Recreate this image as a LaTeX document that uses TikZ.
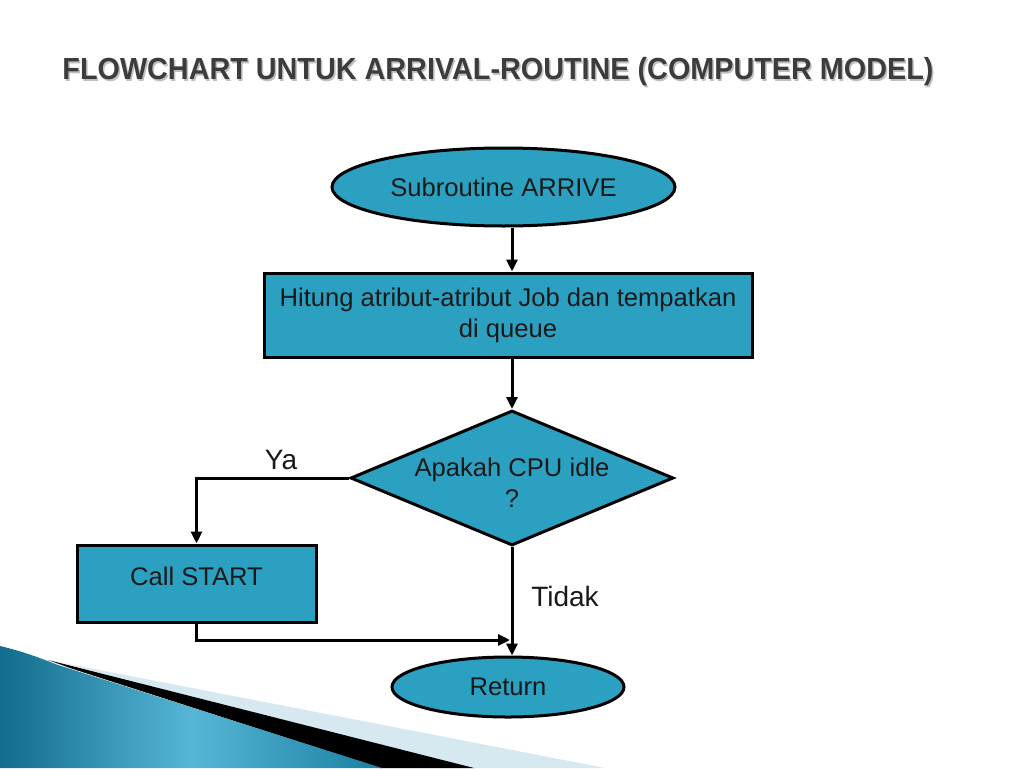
\documentclass[tikz,border=0pt]{standalone}
\usepackage{fontspec}
\setmainfont{Liberation Sans}
\usetikzlibrary{shapes.geometric,arrows.meta}
\definecolor{boxfill}{RGB}{44,160,192}
\definecolor{titlecol}{RGB}{60,60,60}
\definecolor{decoL}{RGB}{18,108,140}
\definecolor{decoM}{RGB}{86,182,214}
\definecolor{decoR}{RGB}{26,128,162}
\definecolor{decoLight}{RGB}{214,232,240}
\tikzset{
  base/.style={draw=black, line width=3pt, fill=boxfill, inner sep=0pt, align=center,
    font=\fontsize{25.6}{31}\selectfont, text=black!90},
  oval/.style={base, ellipse},
  boxnode/.style={base, rectangle},
  decision/.style={base, diamond},
  arr/.style={line width=3pt, -{Triangle[length=12pt,width=11pt]}},
  lbl/.style={font=\fontsize{25.6}{31}\selectfont, text=black!90, align=center, inner sep=0pt},
  biglbl/.style={font=\fontsize{28}{32}\selectfont, text=black!90, inner sep=0pt},
  titlefont/.style={font=\bfseries\fontsize{30.5}{34}\selectfont, inner sep=0pt}
}
\begin{document}
\begin{tikzpicture}[x=1pt,y=-1pt]
\useasboundingbox (0,0) rectangle (1024,768);
\fill[white] (0,0) rectangle (1024,768);
% decoration bottom-left
\fill[decoLight] (58,662) -- (605,768) -- (470,768) -- cycle;
\fill[black] (48,660) -- (474,768) -- (380,768) -- (70,668) -- cycle;
\shade[left color=decoL, right color=decoR, middle color=decoM]
  (0,646) .. controls (25,652) and (40,658) .. (58,665) -- (382,768) -- (0,768) -- cycle;
% title
\node[titlefont, text=black!25] (tshadow) at (499.5,73.5)
  {\scalebox{0.944}[1]{FLOWCHART UNTUK ARRIVAL-ROUTINE (COMPUTER MODEL)}};
\node[titlefont, text=titlecol] (title) at (498,72)
  {\scalebox{0.944}[1]{FLOWCHART UNTUK ARRIVAL-ROUTINE (COMPUTER MODEL)}};
% nodes
\node[oval, minimum width=343pt, minimum height=78pt] (start) at (503.5,187) {Subroutine ARRIVE};
\node[boxnode, minimum width=488pt, minimum height=84pt] (calc) at (508,315)
  {Hitung atribut-atribut Job dan tempatkan\\di queue};
\node[decision, minimum width=323pt, minimum height=135pt] (dec) at (512,478) {};
\node[lbl] (dectext) at (512,483) {Apakah CPU idle\\?};
\node[boxnode, minimum width=239pt, minimum height=77pt] (call) at (196.5,583.5) {};
\node[lbl] (calltext) at (196.5,576) {Call START};
\node[oval, minimum width=232pt, minimum height=60pt] (ret) at (508,687) {Return};
% labels
\node[biglbl] (ya) at (281,460) {Ya};
\node[biglbl] (tidak) at (565,596) {Tidak};
% connectors
\coordinate (c1) at (512,0);
\draw[arr] (start.south -| c1) -- (calc.north -| c1);
\draw[arr] (calc.south -| c1) -- (dec.north);
\draw[arr] (dec.west) -| (call.north);
\draw[arr] (dec.south) -- (dec.south |- ret.north);
\coordinate (join) at (510,640);
\draw[arr] (call.south) |- (join);
\end{tikzpicture}
\end{document}
